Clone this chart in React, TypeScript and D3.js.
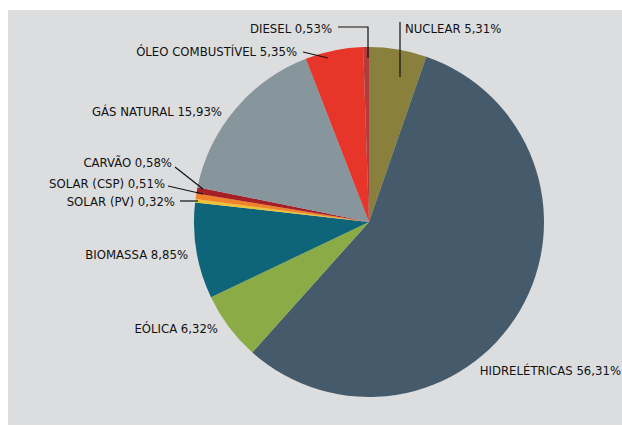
import React from "react"
import * as d3 from "d3"

// fontes de energia, no sentido horário a partir do topo
const fontes = [
  "NUCLEAR",
  "HIDRELÉTRICAS",
  "EÓLICA",
  "BIOMASSA",
  "SOLAR (PV)",
  "SOLAR (CSP)",
  "CARVÃO",
  "GÁS NATURAL",
  "ÓLEO COMBUSTÍVEL",
  "DIESEL",
]
const valores = [5.31, 56.31, 6.32, 8.85, 0.32, 0.51, 0.58, 15.93, 5.35, 0.53]
const cores = [
  "#8a803e",
  "#455b6b",
  "#8aab45",
  "#0e6478",
  "#eec235",
  "#f0822a",
  "#a61f27",
  "#87959c",
  "#e8352a",
  "#b23b3b",
]

// posição dos rótulos (x da âncora, y do centro) e linhas de chamada
const rotulos: { anchor: string; x: number; y: number; line: [number, number][] }[] = [
  { anchor: "start", x: 405, y: 28, line: [[400, 22], [400, 77]] },
  { anchor: "end", x: 621, y: 370, line: [] },
  { anchor: "end", x: 218, y: 328, line: [] },
  { anchor: "end", x: 188, y: 254, line: [] },
  { anchor: "end", x: 175, y: 201, line: [[180, 201], [198, 201]] },
  { anchor: "end", x: 165, y: 183, line: [[168, 186], [203, 194]] },
  { anchor: "end", x: 172, y: 162, line: [[175, 167], [203, 189]] },
  { anchor: "end", x: 222, y: 111, line: [] },
  { anchor: "end", x: 297, y: 51, line: [[303, 52], [328, 58]] },
  { anchor: "end", x: 332, y: 28, line: [[338, 27], [368, 27], [368, 58]] },
]

const fmt = (v: number) => v.toFixed(2).replace(".", ",") + "%"

export default function App() {
  const width = 622
  const height = 429
  const cx = 369
  const cy = 222
  const r = 175

  const pie = d3
    .pie<number>()
    .sort(null)
    .value((d) => d)
  const arcs = pie(valores)
  const arc = d3.arc<d3.PieArcDatum<number>>().innerRadius(0).outerRadius(r)
  const line = d3.line()

  return (
    <svg
      width={width}
      height={height}
      style={{ position: "absolute", left: 0, top: 0, background: "#fff" }}
    >
      <rect x={8} y={10} width={614} height={415} fill="#dcdddf" />
      <g transform={`translate(${cx},${cy})`}>
        {arcs.map((a, i) => (
          <path key={i} d={arc(a) || ""} fill={cores[i]} />
        ))}
      </g>
      {rotulos.map((l, i) => (
        <g key={i}>
          {l.line.length > 0 && (
            <path d={line(l.line) || ""} fill="none" stroke="#111" strokeWidth={1.2} />
          )}
          <text
            x={l.x}
            y={l.y}
            textAnchor={l.anchor}
            dominantBaseline="central"
            fontFamily="'Liberation Sans Narrow', 'Arial Narrow', 'DejaVu Sans Condensed', sans-serif"
            fontSize={13}
            fill="#111"
          >
            {fontes[i] + " " + fmt(valores[i])}
          </text>
        </g>
      ))}
    </svg>
  )
}
